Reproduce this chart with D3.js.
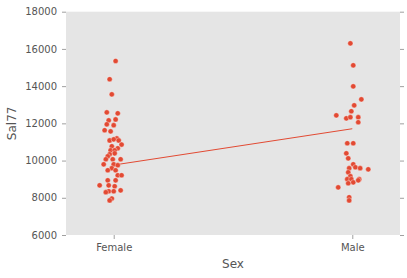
<!DOCTYPE html>
<html>
<head>
<meta charset="utf-8">
<script src="https://cdn.jsdelivr.net/npm/d3@7"></script>
<style>
  body { margin: 0; background: #fff; }
  text { font-family: "DejaVu Sans", sans-serif; }
</style>
</head>
<body>
<div id="chart-container"></div>
<script>
var categories = ['Female', 'Male']
var yTicks = [6000, 8000, 10000, 12000, 14000, 16000, 18000]

var femaleSal = [15350, 14370, 13560, 12590, 12540,
  12160, 12210, 11950, 11900, 11630, 11570, 11190, 11080, 11140, 11080, 10860, 10770, 10660, 10550, 10550, 10390, 10340, 10230, 10070, 10070, 10070,
  9800, 9800, 9750, 9590, 9480, 9480, 9210, 9210, 8940, 8940, 8670, 8670, 8620, 8350, 8350, 8400, 8300, 7960, 7860]
var femaleJitter = [0.008, -0.017, -0.008, -0.029, 0.017,
  -0.021, 0.008, -0.029, 0, -0.038, -0.013, 0.013, -0.017, 0, 0.021, 0.033, -0.008, 0.017, -0.013, 0.004, 0.004, -0.017, -0.025, -0.033, -0.004, 0.029,
  -0.042, 0, 0.017, -0.008, -0.025, 0.008, 0.017, 0.033, -0.025, 0.008, -0.059, -0.021, 0.004, -0.021, 0, 0.029, -0.033, -0.008, -0.017]

var maleSal = [16300, 15120, 13990,
  13290, 12970, 12650, 12430, 12270, 12330, 12330, 12060,
  10930, 10930, 10390, 10120, 9800, 9590, 9640, 9590, 9530, 9370, 9160, 9000, 9000, 9000, 8830, 8780, 8940, 8560, 8030, 7860]
var maleJitter = [-0.008, 0.004, 0.004,
  0.038, 0.008, -0.004, -0.067, -0.025, -0.008, 0.025, 0.025,
  -0.021, 0.004, -0.025, -0.017, 0.004, -0.013, 0.013, 0.033, 0.067, -0.017, -0.008, -0.021, -0.004, 0.029, 0.004, -0.017, 0.025, -0.059, -0.013, -0.013]

var meanLine = [9760, 11710]

var width = 407, height = 278
var margin = {top: 11.7, right: 7, bottom: 43, left: 66}
var red = '#E24A33'

var svg = d3.select("#chart-container").append("svg").attr('width', width).attr('height', height)

var x = d3.scaleLinear().domain([-0.2, 1.2]).range([margin.left, width - margin.right])
var y = d3.scaleLinear().domain([6000, 18000]).range([height - margin.bottom, margin.top])

svg.append('rect').attr('x', x(-0.2)).attr('y', y(18000)).attr('width', x(1.2) - x(-0.2)).attr('height', y(6000) - y(18000)).attr('fill', '#E5E5E5')

var yAxis = svg.append('g').attr('transform', 'translate(' + x(-0.2) + ',0)')
  .call(d3.axisLeft(y).tickValues(yTicks).tickSize(4).tickPadding(5).tickFormat(d3.format('d')))
var yAxisR = svg.append('g').attr('transform', 'translate(' + x(1.2) + ',0)')
  .call(d3.axisRight(y).tickValues(yTicks).tickSize(4).tickFormat(''))
var xAxis = svg.append('g').attr('transform', 'translate(0,' + y(6000) + ')')
  .call(d3.axisBottom(x).tickValues([0, 1]).tickSize(4).tickPadding(5).tickFormat(function(d) { return categories[d] }))

;[yAxis, yAxisR, xAxis].forEach(function(a) {
  a.select('.domain').remove()
  a.selectAll('line').attr('stroke', '#888').attr('stroke-width', 0.8)
  a.selectAll('text').attr('fill', '#555').attr('font-size', '10px')
})

svg.append('path')
  .datum(meanLine)
  .attr('fill', 'none')
  .attr('stroke', red)
  .attr('stroke-width', 1)
  .attr('d', d3.line().x(function(d, i) { return x(i) }).y(function(d) { return y(d) }))

var pts = []
femaleSal.forEach(function(v, i) { pts.push({c: 0 + femaleJitter[i], v: v}) })
maleSal.forEach(function(v, i) { pts.push({c: 1 + maleJitter[i], v: v}) })

svg.selectAll('.dot').data(pts).enter().append('circle')
  .attr('class', 'dot')
  .attr('cx', function(d) { return x(d.c) })
  .attr('cy', function(d) { return y(d.v) })
  .attr('r', 2.6)
  .attr('fill', red)
  .attr('stroke', '#fff')
  .attr('stroke-opacity', 0.6)
  .attr('stroke-width', 0.6)

svg.append('text').attr('transform', 'translate(16,' + y(12000) + ') rotate(-90)')
  .attr('text-anchor', 'middle').attr('fill', '#555').attr('font-size', '12px').text('Sal77')
svg.append('text').attr('x', x(0.5)).attr('y', 268)
  .attr('text-anchor', 'middle').attr('fill', '#555').attr('font-size', '12px').text('Sex')
</script>
</body>
</html>
